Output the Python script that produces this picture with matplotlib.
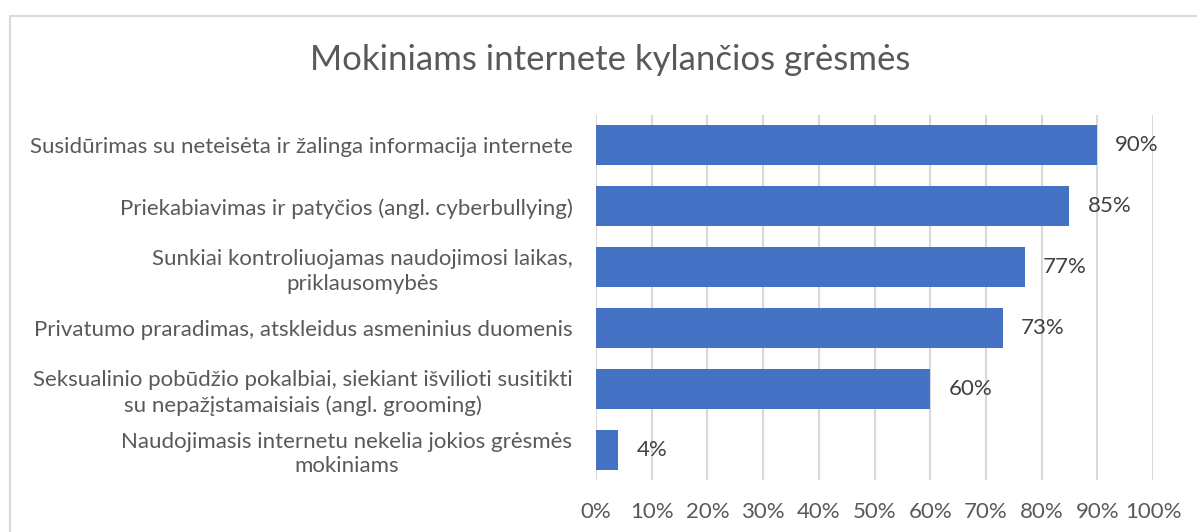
import matplotlib
matplotlib.use("Agg")
import matplotlib.pyplot as plt
from matplotlib.patches import Rectangle
from matplotlib.ticker import FuncFormatter, MultipleLocator

title = "Mokiniams internete kylančios grėsmės"
categories = [
    "Susidūrimas su neteisėta ir žalinga informacija internete",
    "Priekabiavimas ir patyčios (angl. cyberbullying)",
    "Sunkiai kontroliuojamas naudojimosi laikas,\npriklausomybės",
    "Privatumo praradimas, atskleidus asmeninius duomenis",
    "Seksualinio pobūdžio pokalbiai, siekiant išvilioti susitikti\nsu nepažįstamaisiais (angl. grooming)",
    "Naudojimasis internetu nekelia jokios grėsmės\nmokiniams",
]
values = [90, 85, 77, 73, 60, 4]

plt.rcParams["font.family"] = ["Lato", "DejaVu Sans"]
text_color = "#595959"

fig = plt.figure(figsize=(11.97, 5.32), dpi=100)
fig.patches.append(Rectangle((10 / 1197, -0.1), 1.2, 1.1 - 16 / 532,
                             transform=fig.transFigure, fill=False,
                             edgecolor="#d9d9d9", linewidth=1.5))
ax = fig.add_axes([596 / 1197, 1 - 480 / 532, 557 / 1197, 365 / 532])

pos = list(range(len(categories)))
bars = ax.barh(pos, values, height=0.66, color="#4472c4", zorder=3)
ax.bar_label(bars, labels=[f"{v}%" for v in values], padding=13,
             fontsize=16, color="#404040")

ax.set_ylim(len(categories) - 0.5, -0.5)
ax.set_xlim(0, 100)
ax.set_yticks(pos)
ax.set_yticklabels(categories, fontsize=16, color=text_color,
                   multialignment="center", linespacing=1.3)
ax.xaxis.set_major_locator(MultipleLocator(10))
ax.xaxis.set_major_formatter(FuncFormatter(lambda x, _: f"{x:.0f}%"))
ax.tick_params(axis="x", labelsize=16, labelcolor=text_color, length=0, pad=16)
ax.tick_params(axis="y", length=0, pad=17)
ax.grid(axis="x", color="#d9d9d9", linewidth=1.5, zorder=0)
for s in ax.spines.values():
    s.set_visible(False)

fig.text(610 / 1197, 1 - 60 / 532, title, ha="center", va="center",
         fontsize=25, color=text_color)

fig.savefig("out.png", dpi=100)
